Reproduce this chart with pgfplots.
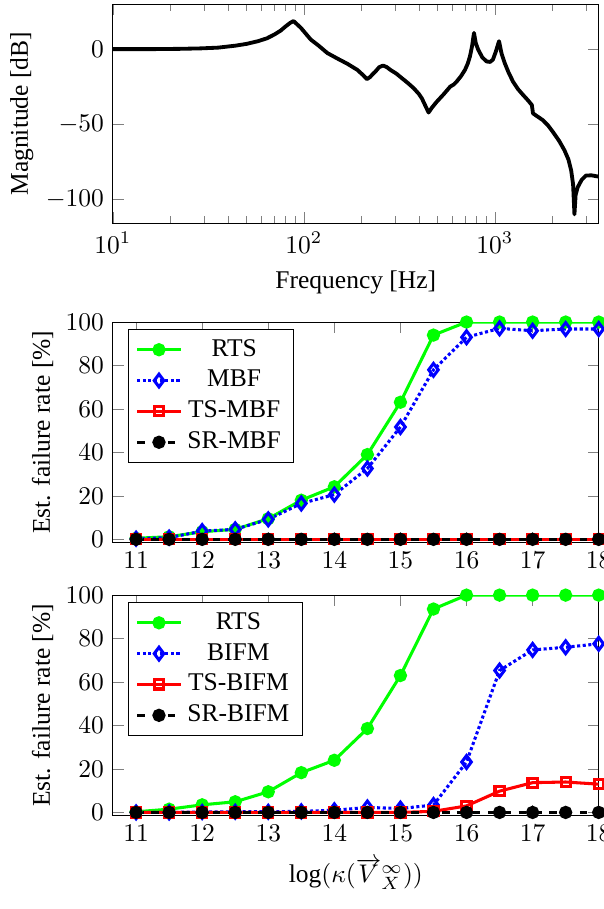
\documentclass[border=0pt]{standalone}
\usepackage{fontspec}
\setmainfont{Liberation Serif}
\usepackage{pgfplots}
\pgfplotsset{compat=1.18}

\pgfplotsset{
  every axis y label/.append style={yshift=-2pt},
  rate/.style={
    scale only axis,
    width=190.5pt, height=86.5pt,
    xmin=10.65, xmax=18, ymin=-1.5, ymax=100,
    xtick={11,...,18}, ytick={0,20,...,100},
    ylabel={Est. failure rate [\%]},
    legend cell align=center,
    legend style={at={(0.03,0.97)}, anchor=north west},
  },
  rts/.style={green, solid, very thick, mark=*, mark size=2pt},
  mbf/.style={blue, densely dotted, very thick, mark=diamond, mark size=2.5pt, mark options={solid}},
  tsm/.style={red, solid, very thick, mark=square, mark size=1.8pt},
  srm/.style={black, dashed, very thick, mark=*, mark size=2pt, mark options={solid}},
}

\begin{document}
\begin{tikzpicture}
% frequency response
\begin{axis}[
    at={(0,0)}, anchor=north west,
    scale only axis,
    width=190.5pt, height=86pt,
    xmode=log, xmin=10, xmax=3500,
    ymin=-116, ymax=30,
    ytick={-100,-50,0},
    xlabel={Frequency [Hz]},
    ylabel={Magnitude [dB]},
]
\addplot[black, line width=1.5pt, line join=round] coordinates {
  (10,0) (15.8,0) (22.4,0.2) (28.8,0.5) (35.5,1.0) (43.7,2.3) (50.1,3.5) (57.5,5.3)
  (64,7.2) (70,9.7) (75.5,12.3) (80.5,15.3) (85,17.6) (88.3,18.7) (92,16.6) (96.4,14.2)
  (102,10.5) (108.6,6.4) (119,2.5) (132.7,-2.6) (150,-6.3)
  (168.7,-9.7) (190.5,-13.8) (205,-17.5) (213.8,-20) (222,-18.6) (228,-17) (237,-14.9)
  (248,-12) (260,-10.9) (272,-12)
  (283.8,-13.8) (305,-16.3) (326.6,-19.4) (350,-22.5) (375.8,-26) (400,-29.8) (415,-32.8)
  (432,-37.5) (449.8,-42.2) (470,-38.7)
  (496.6,-35) (540,-30) (583.4,-25) (610,-23.5) (631,-21.6) (665,-18) (698,-13.8) (722,-9.5) (741,-4.8)
  (760,2) (778,10.8) (795,4) (818,-0.3) (860,-5.5) (905.7,-8.2) (945,-8.5) (977,-7) (1010,-2)
  (1052,5.3) (1085,-3) (1127,-9.3) (1180,-15.5)
  (1245,-21.6) (1320,-26.5) (1406,-30.5) (1490,-34) (1563,-37.2) (1585,-42.8) (1680,-45) (1786,-47.3)
  (1900,-50.8) (2014,-55.1) (2170,-61) (2317,-67.4) (2430,-73.5) (2512,-80.9) (2570,-90) (2612,-110)
  (2650,-97) (2716,-92) (2850,-87)
  (2999,-84.2) (3200,-84) (3500,-84.9)
};
\end{axis}

% MBF comparison
\begin{axis}[rate, at={(0,-124.7pt)}, anchor=north west]
\addplot[rts] coordinates {
  (11,0.5) (11.5,1.2) (12,3.5) (12.5,4.6) (13,9.5) (13.5,18) (14,24.2)
  (14.5,39) (15,63.1) (15.5,94) (16,100) (16.5,100) (17,100) (17.5,100) (18,100)
};
\addplot[mbf] coordinates {
  (11,0.3) (11.5,0.8) (12,3.8) (12.5,4.6) (13,9.2) (13.5,16.5) (14,20.6)
  (14.5,32.6) (15,51.7) (15.5,78) (16,93) (16.5,97.1) (17,96) (17.5,96.8) (18,96.8)
};
\addplot[tsm] coordinates {
  (11,0) (11.5,0) (12,0) (12.5,0) (13,0) (13.5,0) (14,0)
  (14.5,0) (15,0) (15.5,0) (16,0) (16.5,0) (17,0) (17.5,0) (18,0)
};
\addplot[srm] coordinates {
  (11,0) (11.5,0) (12,0) (12.5,0) (13,0) (13.5,0) (14,0)
  (14.5,0) (15,0) (15.5,0) (16,0) (16.5,0) (17,0) (17.5,0) (18,0)
};
\legend{RTS, MBF, TS-MBF, SR-MBF}
\end{axis}

% BIFM comparison
\begin{axis}[rate, at={(0,-231.8pt)}, anchor=north west,
    xlabel={$\log(\kappa(\overrightarrow{V}{}^{\infty}_{X}))$}]
\addplot[rts] coordinates {
  (11,0.3) (11.5,1.5) (12,3.5) (12.5,4.9) (13,9.5) (13.5,18.3) (14,24)
  (14.5,38.6) (15,63) (15.5,93.6) (16,100) (16.5,100) (17,100) (17.5,100) (18,100)
};
\addplot[mbf] coordinates {
  (11,0) (11.5,0) (12,0.2) (12.5,0.3) (13,0.3) (13.5,0.5) (14,1)
  (14.5,2.3) (15,1.8) (15.5,3.4) (16,23.2) (16.5,65.3) (17,74.8) (17.5,76) (18,77.6)
};
\addplot[tsm] coordinates {
  (11,0) (11.5,0) (12,0) (12.5,0) (13,0) (13.5,0) (14,0)
  (14.5,0) (15,0) (15.5,0.5) (16,3) (16.5,9.8) (17,13.7) (17.5,14) (18,13)
};
\addplot[srm] coordinates {
  (11,0) (11.5,0) (12,0) (12.5,0) (13,0) (13.5,0) (14,0)
  (14.5,0) (15,0) (15.5,0) (16,0) (16.5,0) (17,0) (17.5,0) (18,0)
};
\legend{RTS, BIFM, TS-BIFM, SR-BIFM}
\end{axis}
% page trimmed like the reference (right tick label is cut)
\pgfresetboundingbox
\useasboundingbox (-44.3pt,1.6pt) rectangle (192.2pt,-354.9pt);
\end{tikzpicture}
\end{document}
